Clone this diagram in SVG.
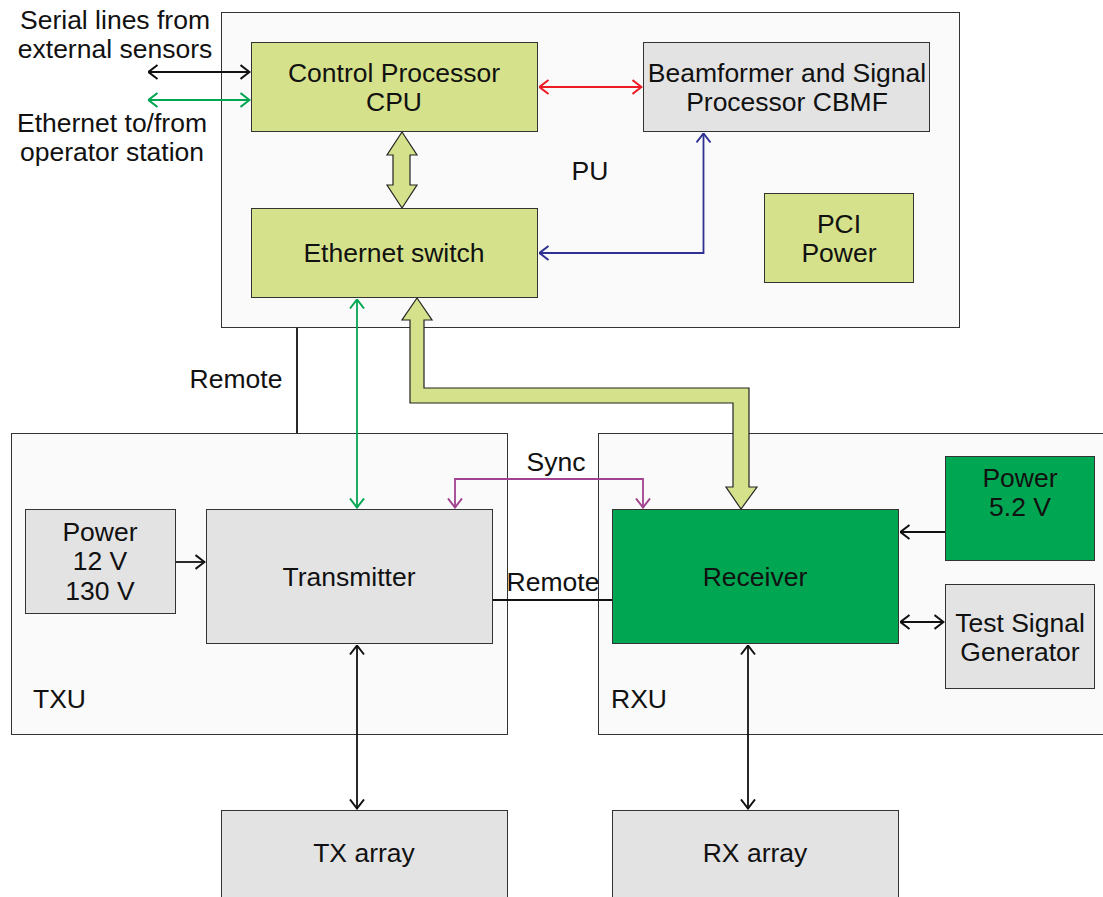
<svg xmlns="http://www.w3.org/2000/svg" width="1103" height="897" viewBox="0 0 1103 897">
<style>
text{font-family:"Liberation Sans",Arial,sans-serif;font-size:26.5px;fill:#111;text-anchor:middle}
.l{text-anchor:start}
.cont{fill:#fafafa;stroke:#333;stroke-width:1}
.olive{fill:#d5e28b;stroke:#333;stroke-width:1}
.grey{fill:#e3e3e3;stroke:#333;stroke-width:1}
.green{fill:#00a651;stroke:#333;stroke-width:1}
.c{fill:none;stroke-width:1.8}
.k{stroke:#111}
.g{stroke:#00a651}
.r{stroke:#ed1c24}
.b{stroke:#2e3192}
.p{stroke:#a0428f}
.fat{fill:#d5e28b;stroke:#222;stroke-width:1.2;stroke-linejoin:miter}
</style>
<defs>
<marker id="ak" viewBox="0 0 11 16" refX="10.5" refY="8" markerWidth="11" markerHeight="16" markerUnits="userSpaceOnUse" orient="auto-start-reverse"><path d="M1,1 L10,8 L1,15" fill="none" stroke="#111" stroke-width="2"/></marker>
<marker id="ag" viewBox="0 0 11 16" refX="10.5" refY="8" markerWidth="11" markerHeight="16" markerUnits="userSpaceOnUse" orient="auto-start-reverse"><path d="M1,1 L10,8 L1,15" fill="none" stroke="#00a651" stroke-width="2"/></marker>
<marker id="ar" viewBox="0 0 11 16" refX="10.5" refY="8" markerWidth="11" markerHeight="16" markerUnits="userSpaceOnUse" orient="auto-start-reverse"><path d="M1,1 L10,8 L1,15" fill="none" stroke="#ed1c24" stroke-width="2"/></marker>
<marker id="ab" viewBox="0 0 11 16" refX="10.5" refY="8" markerWidth="11" markerHeight="16" markerUnits="userSpaceOnUse" orient="auto-start-reverse"><path d="M1,1 L10,8 L1,15" fill="none" stroke="#2e3192" stroke-width="2"/></marker>
<marker id="ap" viewBox="0 0 11 16" refX="10.5" refY="8" markerWidth="11" markerHeight="16" markerUnits="userSpaceOnUse" orient="auto-start-reverse"><path d="M1,1 L10,8 L1,15" fill="none" stroke="#a0428f" stroke-width="2"/></marker>
</defs>
<rect width="1103" height="897" fill="#fff"/>

<g id="PU"><rect class="cont" x="221.5" y="12.5" width="738" height="315"/><text x="590" y="180">PU</text></g>
<g id="TXU"><rect class="cont" x="11.5" y="433.5" width="496" height="301"/><text class="l" x="33" y="708">TXU</text></g>
<g id="RXU"><rect class="cont" x="598.5" y="433.5" width="510" height="301"/><text class="l" x="611" y="708">RXU</text></g>

<g id="labels">
<text x="115" y="29">Serial lines from</text>
<text x="115" y="58">external sensors</text>
<text x="112" y="132">Ethernet to/from</text>
<text x="112" y="161">operator station</text>
</g>

<g id="connectors">
<line class="c k" x1="297" y1="328" x2="297" y2="433"/>
<text x="236" y="388">Remote</text>
<line class="c k" x1="493" y1="600" x2="612" y2="600"/>
<rect x="508" y="568" width="90" height="30" fill="#fff"/>
<text x="553" y="591">Remote</text>
<line class="c k" x1="148" y1="72" x2="250" y2="72" marker-start="url(#ak)" marker-end="url(#ak)"/>
<line class="c g" x1="148" y1="100" x2="250" y2="100" marker-start="url(#ag)" marker-end="url(#ag)"/>
<line class="c r" x1="539" y1="87" x2="642" y2="87" marker-start="url(#ar)" marker-end="url(#ar)"/>
<path class="c b" d="M539,253 H703.5 V133" marker-start="url(#ab)" marker-end="url(#ab)"/>
<line class="c g" x1="357" y1="299" x2="357" y2="508" marker-start="url(#ag)" marker-end="url(#ag)"/>
<path class="c p" d="M455,508 V479 H643 V508" marker-start="url(#ap)" marker-end="url(#ap)"/>
<text x="556" y="471">Sync</text>
<line class="c k" x1="176" y1="562" x2="205" y2="562" marker-end="url(#ak)"/>
<line class="c k" x1="945" y1="532" x2="900" y2="532" marker-end="url(#ak)"/>
<line class="c k" x1="900" y1="622" x2="944" y2="622" marker-start="url(#ak)" marker-end="url(#ak)"/>
<line class="c k" x1="357" y1="645" x2="357" y2="809" marker-start="url(#ak)" marker-end="url(#ak)"/>
<line class="c k" x1="748" y1="645" x2="748" y2="809" marker-start="url(#ak)" marker-end="url(#ak)"/>
<polygon class="fat" points="402,132 417,155 410,155 410,185 417,185 402,208 387,185 393,185 393,155 387,155"/>
<polygon class="fat" points="417,298 432,320 424,320 424,388 749,388 749,487 757,487 741,509 726,487 733,487 733,403 410,403 410,320 402,320"/>
</g>

<g id="cpu"><rect class="olive" x="251.5" y="42.5" width="286" height="89"/><text x="394" y="82">Control Processor</text><text x="394" y="111">CPU</text></g>
<g id="cbmf"><rect class="grey" x="643.5" y="42.5" width="286" height="89"/><text x="787" y="82">Beamformer and Signal</text><text x="787" y="111">Processor CBMF</text></g>
<g id="ethsw"><rect class="olive" x="251.5" y="208.5" width="286" height="89"/><text x="394" y="262">Ethernet switch</text></g>
<g id="pci"><rect class="olive" x="764.5" y="193.5" width="149" height="89"/><text x="839" y="233">PCI</text><text x="839" y="262">Power</text></g>
<g id="pwr12"><rect class="grey" x="25.5" y="509.5" width="150" height="104"/><text x="100" y="541">Power</text><text x="100" y="570">12 V</text><text x="100" y="600">130 V</text></g>
<g id="tx"><rect class="grey" x="206.5" y="509.5" width="286" height="134"/><text x="349" y="586">Transmitter</text></g>
<g id="rx"><rect class="green" x="612.5" y="509.5" width="286" height="134"/><text x="755" y="586">Receiver</text></g>
<g id="pwr52"><rect class="green" x="945.5" y="456.5" width="149" height="104"/><text x="1020" y="487">Power</text><text x="1020" y="516">5.2 V</text></g>
<g id="tsg"><rect class="grey" x="945.5" y="584.5" width="149" height="104"/><text x="1020" y="632">Test Signal</text><text x="1020" y="661">Generator</text></g>
<g id="txarr"><rect class="grey" x="221.5" y="810.5" width="286" height="100"/><text x="364" y="862">TX array</text></g>
<g id="rxarr"><rect class="grey" x="612.5" y="810.5" width="286" height="100"/><text x="755" y="862">RX array</text></g>
</svg>
